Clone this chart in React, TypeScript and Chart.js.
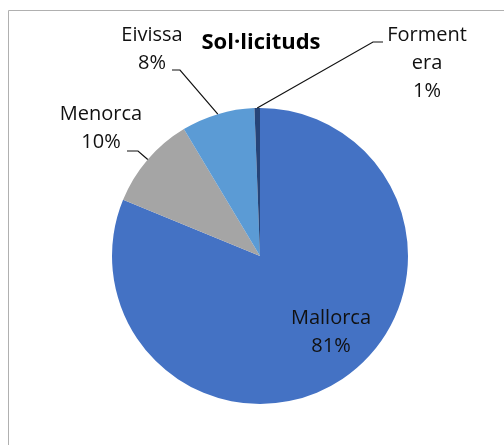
import React, { useEffect, useRef } from "react";
import { Chart, registerables } from "chart.js";

Chart.register(...registerables);

const categories = ["Mallorca", "Menorca", "Eivissa", "Formentera"];
const values = [812, 102, 80, 6];
const colors = ["#4472C4", "#A5A5A5", "#5B9BD5", "#264478"];
const titleText = "Sol·licituds";
// label text lines as shown in the chart
const labelLines = [["Mallorca", "81%"], ["Menorca", "10%"], ["Eivissa", "8%"], ["Forment", "era", "1%"]];

const FONT = '"Open Sans", "Noto Sans", sans-serif';

export default function App() {
  const ref = useRef<HTMLCanvasElement | null>(null);
  useEffect(() => {
    const canvas = ref.current!;
    const labelPlugin = {
      id: "excelLabels",
      afterDraw(chart: any) {
        const ctx = chart.ctx as CanvasRenderingContext2D;
        const meta = chart.getDatasetMeta(0);
        ctx.save();
        // frame
        ctx.strokeStyle = "#B0B0B0";
        ctx.lineWidth = 1;
        ctx.beginPath();
        ctx.moveTo(8.5, 445);
        ctx.lineTo(8.5, 10.5);
        ctx.lineTo(504, 10.5);
        ctx.stroke();
        // title
        ctx.fillStyle = "#000";
        ctx.font = `bold 22px ${FONT}`;
        ctx.textAlign = "center";
        ctx.textBaseline = "middle";
        ctx.fillText(titleText, 261, 43);
        // label positions (text block centers of first line) and leader line elbows
        const pos = [
          { x: 331, y: 318, leader: null },
          { x: 101, y: 114, leader: [[127, 151], [138, 151]] },
          { x: 152, y: 35, leader: [[172, 70], [180, 70]] },
          { x: 427, y: 35, leader: [[383, 42], [373, 42]] },
        ];
        ctx.font = `20px ${FONT}`;
        ctx.fillStyle = "#111";
        const lh = 28;
        labelLines.forEach((lines, i) => {
          const p = pos[i];
          lines.forEach((t, j) => ctx.fillText(t, p.x, p.y + j * lh));
          if (p.leader) {
            const arc = meta.data[i];
            const mid = (arc.startAngle + arc.endAngle) / 2;
            const ax = arc.x + Math.cos(mid) * arc.outerRadius;
            const ay = arc.y + Math.sin(mid) * arc.outerRadius;
            ctx.strokeStyle = "#111";
            ctx.lineWidth = 1.2;
            ctx.beginPath();
            ctx.moveTo(p.leader[0][0], p.leader[0][1]);
            ctx.lineTo(p.leader[1][0], p.leader[1][1]);
            ctx.lineTo(ax, ay);
            ctx.stroke();
          }
        });
        ctx.restore();
      },
    };
    const chart = new Chart(canvas, {
      type: "pie",
      data: {
        labels: categories,
        datasets: [
          {
            data: values,
            backgroundColor: colors,
            borderWidth: 0,
          },
        ],
      },
      options: {
        responsive: false,
        animation: false,
        layout: { padding: { top: 108, bottom: 41, left: 112, right: 96 } },
        plugins: {
          legend: { display: false },
          title: { display: false },
          tooltip: { enabled: false },
        },
      },
      plugins: [labelPlugin],
    });
    return () => chart.destroy();
  }, []);
  return (
    <div style={{ position: "fixed", left: 0, top: 0, width: 504, height: 445, background: "#fff" }}>
      <canvas ref={ref} width={504} height={445} style={{ display: "block" }} />
    </div>
  );
}
